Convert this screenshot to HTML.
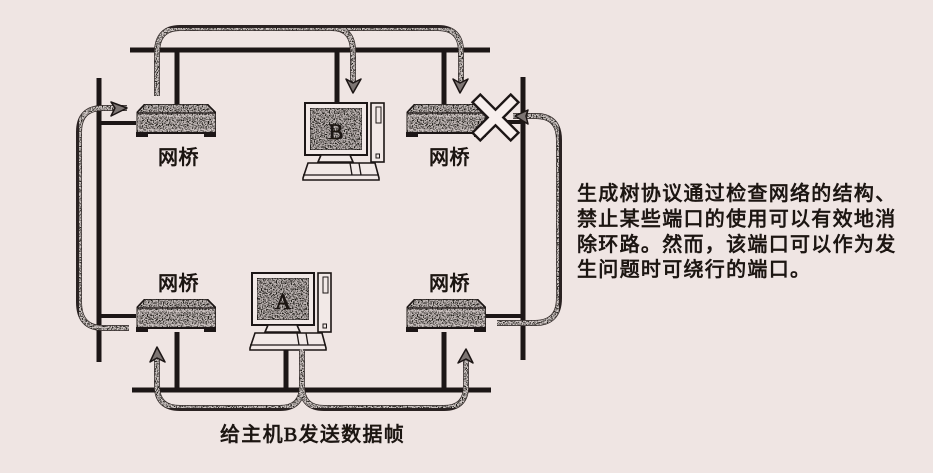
<!DOCTYPE html>
<html lang="zh"><head><meta charset="utf-8"><title>生成树协议</title>
<style>
html,body{margin:0;padding:0;background:#efe5e3}
svg{display:block}
text{font-family:"Liberation Serif","Noto Sans CJK SC",sans-serif;font-weight:400;fill:#1c1412;stroke:#1c1412;stroke-width:.75}
</style></head>
<body>
<svg xmlns="http://www.w3.org/2000/svg" width="933" height="473" viewBox="0 0 933 473">
<defs>
<filter id="st" x="0" y="0" width="100%" height="100%" color-interpolation-filters="sRGB">
<feTurbulence type="fractalNoise" baseFrequency="0.8" numOctaves="2" seed="4" result="n"/>
<feColorMatrix in="n" type="matrix" values="0 0 0 0 0.12  0 0 0 0 0.1  0 0 0 0 0.09  4 4 0 0 -3.8"/>
<feComposite in2="SourceAlpha" operator="in" result="d"/>
<feMerge><feMergeNode in="SourceGraphic"/><feMergeNode in="d"/></feMerge>
</filter>
<filter id="sc" x="0" y="0" width="100%" height="100%"><feGaussianBlur stdDeviation="0.35"/></filter>
<g id="bridge">
<path d="M0.5 10 L9 1 H71 L80 10 V30 H0.5Z" fill="#c2bab8" stroke="#1c1412" stroke-width="1.6" filter="url(#st)"/>
<path d="M0.5 10 H80" stroke="#1c1412" stroke-width="1.3"/>
<rect x="3" y="13" width="74" height="14" fill="none" stroke="#e6dcda" stroke-width=".7"/>
<rect x="0" y="29" width="80" height="2" fill="#1c1412"/>
<rect x="0" y="30" width="12" height="4" fill="#1c1412"/>
<rect x="68" y="30" width="12" height="4" fill="#1c1412"/>
</g>
<g id="pc" fill="#f2e9e7" stroke="#1c1412">
<rect x="2" y="1" width="62" height="52" stroke-width="2"/>
<rect x="7" y="6" width="52" height="42" fill="#bdb5b3" stroke-width="1" filter="url(#st)"/>
<rect x="68" y="1" width="13" height="59" stroke-width="1.6"/>
<rect x="73" y="5" width="5" height="16" stroke-width="1"/>
<rect x="73" y="52" width="3.5" height="4" stroke-width="1"/>
<path d="M18 53 L15 60 H50 L47 53Z" stroke-width="1.6"/>
<path d="M5 61 H72 L76 76 V78 H0 V76Z" stroke-width="1.6"/>
<path d="M0 73 H76 M47 61 L49 73 M56 61 L58 73" fill="none" stroke-width="1.3"/>
</g>
</defs>
<g filter="url(#sc)">
<rect width="933" height="473" fill="#efe5e3"/>

<g stroke="#1c1412" fill="none">
<path d="M130 50 H490" stroke-width="5"/>
<path d="M132 390 H491" stroke-width="5"/>
<path d="M99 78 V362" stroke-width="5"/>
<path d="M523 77 V360" stroke-width="5"/>
<path d="M177 50 V104 M337 50 V104 M444 50 V104 M177 332 V390 M444 332 V390 M286 349 V390" stroke-width="5"/>
<path d="M99 123 H136 M99 316 H136 M486 316 H523 M486 122 H523" stroke-width="4"/>
</g>

<use href="#bridge" x="136" y="103"/>
<use href="#bridge" x="406" y="103"/>
<use href="#bridge" x="136" y="298"/>
<use href="#bridge" x="406" y="298"/>

<use href="#pc" x="303" y="102"/>
<use href="#pc" x="250" y="272"/>
<text x="336" y="139" font-size="22" text-anchor="middle">B</text>
<text x="283" y="309" font-size="22" text-anchor="middle">A</text>

<g fill="none" stroke-linecap="butt">
<g stroke="#2a2220" stroke-width="6">
<path d="M157 96 V53 Q157 28 180 28 H332 Q353 28 353 52 V84"/>
<path d="M332 28 H438 Q461 28 461 52 V84"/>
<path d="M127 108 H103 Q79 108 79 132 V302 Q79 328 103 328 H129"/>
<path d="M513 116 H536 Q559 116 559 140 V298 Q559 323 535 323 H497"/>
<path d="M302 349 V386 Q302 408 280 408 H180 Q157 408 157 386 V355"/>
<path d="M302 386 Q302 408 324 408 H444 Q466 408 466 386 V355"/>
</g>
<g stroke="#cfc7c5" stroke-width="4.6" filter="url(#st)">
<path d="M157 96 V53 Q157 28 180 28 H332 Q353 28 353 52 V84"/>
<path d="M332 28 H438 Q461 28 461 52 V84"/>
<path d="M127 108 H103 Q79 108 79 132 V302 Q79 328 103 328 H129"/>
<path d="M513 116 H536 Q559 116 559 140 V298 Q559 323 535 323 H497"/>
<path d="M302 349 V386 Q302 408 280 408 H180 Q157 408 157 386 V355"/>
<path d="M302 386 Q302 408 324 408 H444 Q466 408 466 386 V355"/>
</g>
</g>

<g fill="#7d7573" stroke="#1c1412" stroke-width="1.5" stroke-linejoin="round">
<path d="M353 93 L346 79 L353 83 L361 79Z"/>
<path d="M460 93 L453 79 L460 83 L468 79Z"/>
<path d="M127 108 L111 102 L115 108 L111 116Z"/>
<path d="M515 116 L528 110 L526 116 L528 124Z"/>
<path d="M157 347 L150 362 L157 358 L165 362Z"/>
<path d="M466 349 L458 363 L466 359 L473 363Z"/>
</g>

<path transform="translate(495.5 117.5) rotate(45)" d="M-5.5 -27 H5.5 V-5.5 H27 V5.5 H5.5 V27 H-5.5 V5.5 H-27 V-5.5 H-5.5Z" fill="#f7efed" stroke="#1c1412" stroke-width="2.4"/>

<g font-size="20" letter-spacing="0.5">
<text x="158" y="164">网桥</text>
<text x="429" y="164">网桥</text>
<text x="158" y="290">网桥</text>
<text x="429" y="290">网桥</text>
</g>
<g font-size="20" letter-spacing="1.3">
<text x="577" y="200">生成树协议通过检查网络的结构、</text>
<text x="577" y="225.500">禁止某些端口的使用可以有效地消</text>
<text x="577" y="251">除环路。然而，该端口可以作为发</text>
<text x="577" y="276">生问题时可绕行的端口。</text>
<text x="220" y="441">给主机B发送数据帧</text>
</g>
</g>
</svg>
</body></html>
